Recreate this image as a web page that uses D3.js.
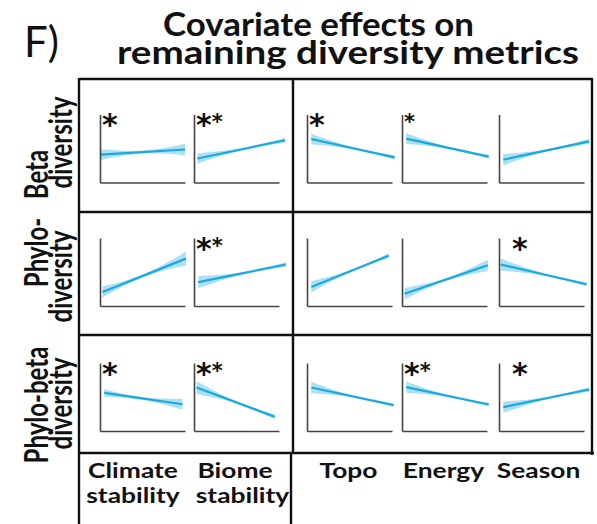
<!DOCTYPE html>
<html><head><meta charset="utf-8">
<script src="https://cdn.jsdelivr.net/npm/d3@7"></script>
<style>body{margin:0;background:#fff} svg{display:block}</style>
</head><body><svg id="chart" width="597" height="524"></svg>
<script>
// Covariates (columns) and diversity metrics (rows)
const covariates = [["Climate", "stability"], ["Biome", "stability"], ["Topo"], ["Energy"], ["Season"]];
const metrics = [["Beta", "diversity"], ["Phylo-", "diversity"], ["Phylo-beta", "diversity"]];

// Fitted response (scaled 0–1) at the low and high end of each covariate
const fitStart = [
  [0.41, 0.353, 0.64, 0.645, 0.335],
  [0.206, 0.35, 0.28, 0.18, 0.61],
  [0.56, 0.64, 0.64, 0.645, 0.35]
];
const fitEnd = [
  [0.485, 0.622, 0.37, 0.38, 0.605],
  [0.697, 0.61, 0.74, 0.6, 0.32],
  [0.393, 0.21, 0.38, 0.39, 0.61]
];
// Observed covariate range (scaled) covered by each fit
const rangeStart = [
  [0.01, 0.04, 0.05, 0.05, 0.05],
  [0.03, 0.05, 0.05, 0.03, 0.02],
  [0.05, 0.03, 0.05, 0.05, 0.05]
];
const rangeEnd = [
  [1.0, 1.07, 1.03, 1.02, 1.06],
  [1.01, 1.08, 0.96, 1.01, 1.03],
  [0.97, 0.95, 1.02, 1.02, 1.06]
];
// Confidence-band half widths at the low end, centre and high end
const ciStart = [
  [0.078, 0.078, 0.078, 0.08, 0.085],
  [0.08, 0.09, 0.083, 0.085, 0.09],
  [0.055, 0.095, 0.085, 0.083, 0.085]
];
const ciMid = [
  [0.022, 0.015, 0.015, 0.015, 0.015],
  [0.02, 0.015, 0.015, 0.02, 0.015],
  [0.02, 0.015, 0.012, 0.012, 0.015]
];
const ciEnd = [
  [0.085, 0.037, 0.03, 0.028, 0.037],
  [0.1, 0.035, 0.035, 0.085, 0.028],
  [0.08, 0.032, 0.02, 0.025, 0.033]
];
// Significance stars: S = large star, s = small star
const stars = [
  ["S", "Ss", "S", "s", ""],
  ["", "Ss", "", "", "S"],
  ["S", "Ss", "", "Ss", "S"]
];

const svg = d3.select("#chart");
const FONT = "Lato, 'Open Sans', sans-serif";
const STAR_FONT = "'DejaVu Sans', sans-serif";
const LINE_COL = "#18a9e0";
const BAND_COL = "#aee0f4";
const STRETCH = 1.32;   // wide letterforms of the labels

// Panel layout
const colX = [100, 194, 307, 402, 499];
const rowBottom = [182.5, 306, 431];
const panelW = 85, panelH = 68;

// horizontally widened bold label
function label(x, y, txt, size, rotate) {
  return svg.append("text")
    .attr("transform", `translate(${x},${y}) scale(${STRETCH},1)` + (rotate ? " rotate(-90)" : ""))
    .attr("text-anchor", "middle").attr("font-family", FONT).attr("font-weight", 700)
    .attr("font-size", size).attr("fill", "#111").text(txt);
}

// Outer table frame
const frame = svg.append("g").attr("stroke", "#111").attr("stroke-width", 2.4).attr("fill", "none");
[[79, 79, 592, 79], [79, 212, 592, 212], [79, 335, 592, 335], [79, 453, 594, 453],
 [79, 78, 79, 524], [293, 79, 293, 453], [291, 453, 291, 524], [592, 78, 592, 455]]
  .forEach(([x1, y1, x2, y2]) => frame.append("line").attr("x1", x1).attr("y1", y1).attr("x2", x2).attr("y2", y2));

// Title
svg.append("text").attr("x", 24).attr("y", 57).attr("font-family", FONT).attr("font-size", 42)
  .attr("fill", "#111").text("F)");
[["Covariate effects on", 163, 36, 311], ["remaining diversity metrics", 117, 64, 462]]
  .forEach(([t, x, y, w]) => svg.append("text").attr("x", x).attr("y", y)
    .attr("font-family", FONT).attr("font-weight", 700).attr("font-size", 32).attr("fill", "#111")
    .attr("textLength", w).attr("lengthAdjust", "spacingAndGlyphs").text(t));

// Row labels (rotated)
const rowLabelCentres = [[174.5, 142.5], [252.5, 276.5], [405, 403.5]];
const rowLabelBase = [48, 72];
metrics.forEach((lines, r) => {
  lines.forEach((t, i) => label(rowLabelBase[i], rowLabelCentres[r][i], t, 24, true));
});

// Column labels
const colLabelCentres = [133, 242.5, 348.5, 443.5, 538.5];
covariates.forEach((lines, c) => {
  lines.forEach((t, i) => label(colLabelCentres[c] - (c === 1 && i === 0 ? 7.5 : 0), 478 + i * 25, t, 20));
});

// Panels
metrics.forEach((m, r) => {
  covariates.forEach((cv, c) => {
    const x0 = colX[c], yb = rowBottom[r];
    const x = d3.scaleLinear().domain([0, 1]).range([x0, x0 + panelW]);
    const y = d3.scaleLinear().domain([0, 1]).range([yb, yb - panelH]);
    const g = svg.append("g");

    const xs = rangeStart[r][c], xe = rangeEnd[r][c];
    const ys = fitStart[r][c], ye = fitEnd[r][c];
    const fit = v => ys + (ye - ys) * (v - xs) / (xe - xs);
    const xm = (xs + xe) / 2;
    const band = [
      { x: xs, m: fit(xs), h: ciStart[r][c] },
      { x: xm, m: fit(xm), h: ciMid[r][c] },
      { x: xe, m: fit(xe), h: ciEnd[r][c] }
    ];
    g.append("path").datum(band)
      .attr("d", d3.area().curve(d3.curveNatural)
        .x(d => x(d.x)).y0(d => y(d.m - d.h)).y1(d => y(d.m + d.h)))
      .attr("fill", BAND_COL);
    g.append("path").datum([[xs, ys], [xe, ye]])
      .attr("d", d3.line().x(d => x(d[0])).y(d => y(d[1])))
      .attr("stroke", LINE_COL).attr("stroke-width", 2.2).attr("fill", "none");

    // axes without ticks
    const ax = g.append("g").attr("transform", `translate(0,${yb})`)
      .call(d3.axisBottom(x).tickValues([]).tickSizeOuter(0));
    const ay = g.append("g").attr("transform", `translate(${x0},0)`)
      .call(d3.axisLeft(y).tickValues([]).tickSizeOuter(0));
    [ax, ay].forEach(a => a.select(".domain").attr("stroke", "#444").attr("stroke-width", 1.6));

    // significance stars
    const s = stars[r][c];
    if (s) {
      const sx = x0 + (c === 4 ? 13 : 2);
      const top = yb - panelH;
      const t = g.append("text").attr("x", sx).attr("y", top).attr("font-family", STAR_FONT)
        .attr("font-weight", 700).attr("fill", "#111");
      s.split("").forEach(k => {
        const fs = k === "S" ? 30 : 21;
        t.append("tspan").attr("font-size", fs).attr("y", top + 4 + 0.56 * fs - (k === "s" ? 1 : 0)).text("*");
      });
    }
  });
});
</script>
</body></html>
